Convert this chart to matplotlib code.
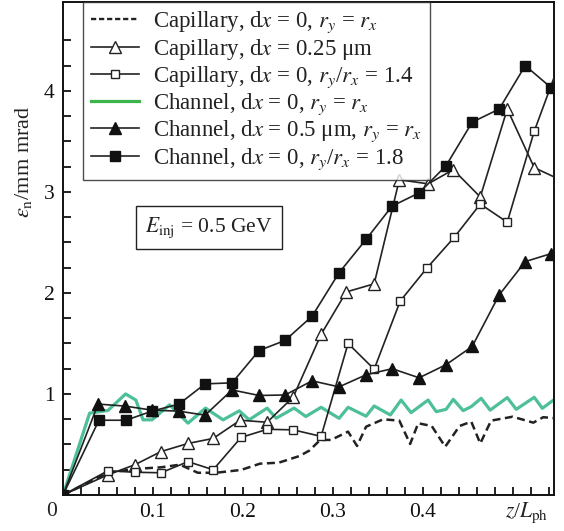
import matplotlib
matplotlib.use("Agg")
import matplotlib.pyplot as plt
from matplotlib.lines import Line2D

plt.rcParams["font.family"] = ["Liberation Serif", "DejaVu Serif"]
plt.rcParams["mathtext.fontset"] = "stix"

# Capillary, dx = 0, ry = rx (dashed)
cap0_x = [0, 0.05, 0.08, 0.109, 0.13, 0.15, 0.17, 0.198, 0.219, 0.24, 0.263, 0.274, 0.286, 0.298,
          0.317, 0.327, 0.337, 0.356, 0.374, 0.386, 0.395, 0.41, 0.425, 0.441, 0.454, 0.464, 0.476,
          0.5, 0.523, 0.534, 0.547]
cap0_y = [0, 0.22, 0.258, 0.274, 0.30, 0.22, 0.22, 0.248, 0.31, 0.32, 0.386, 0.44, 0.545, 0.545,
          0.627, 0.485, 0.676, 0.749, 0.736, 0.505, 0.71, 0.683, 0.478, 0.683, 0.726, 0.51, 0.736,
          0.775, 0.716, 0.77, 0.76]

# Capillary, dx = 0.25 um (open triangles)
cap25_x = [0, 0.050, 0.080, 0.109, 0.139, 0.167, 0.197, 0.227, 0.256, 0.287, 0.315, 0.346, 0.374,
           0.406, 0.434, 0.464, 0.494, 0.524, 0.553]
cap25_y = [0, 0.20, 0.30, 0.43, 0.51, 0.56, 0.74, 0.72, 0.97, 1.59, 2.01, 2.09, 3.12, 3.08, 3.22,
           2.95, 3.82, 3.24, 3.12]

# Capillary, dx = 0, ry/rx = 1.4 (open squares)
cap14_x = [0, 0.050, 0.080, 0.109, 0.139, 0.167, 0.198, 0.227, 0.256, 0.287, 0.317, 0.346, 0.375,
           0.405, 0.435, 0.464, 0.494, 0.524, 0.553]
cap14_y = [0, 0.24, 0.225, 0.22, 0.33, 0.25, 0.57, 0.65, 0.645, 0.58, 1.50, 1.245, 1.92, 2.25,
           2.55, 2.88, 2.70, 3.60, 4.3]

# Channel, dx = 0, ry = rx (green)
ch0_x = [0, 0.0296, 0.05, 0.0696, 0.081, 0.089, 0.099, 0.1185, 0.139, 0.1585, 0.178, 0.196, 0.207,
         0.227, 0.237, 0.257, 0.27, 0.287, 0.307, 0.317, 0.337, 0.346, 0.364, 0.376, 0.387, 0.406,
         0.415, 0.426, 0.434, 0.445, 0.454, 0.465, 0.475, 0.494, 0.504, 0.524, 0.533, 0.547]
ch0_y = [0, 0.81, 0.837, 1.0, 0.94, 0.744, 0.744, 0.893, 0.711, 0.86, 0.744, 0.833, 0.744, 0.86,
         0.76, 0.86, 0.777, 0.868, 0.759, 0.868, 0.78, 0.881, 0.792, 0.94, 0.815, 0.94, 0.825,
         0.848, 0.947, 0.835, 0.875, 0.957, 0.84, 0.964, 0.848, 0.967, 0.858, 0.95]

# Channel, dx = 0.5 um, ry = rx (filled triangles)
ch05_x = [0, 0.039, 0.069, 0.099, 0.129, 0.158, 0.188, 0.218, 0.247, 0.277, 0.307, 0.337, 0.366,
          0.396, 0.426, 0.455, 0.485, 0.514, 0.543]
ch05_y = [0, 0.90, 0.88, 0.84, 0.83, 0.79, 1.04, 0.985, 0.99, 1.13, 1.07, 1.19, 1.25, 1.16, 1.29,
          1.47, 1.98, 2.31, 2.39]

# Channel, dx = 0, ry/rx = 1.8 (filled squares)
ch18_x = [0, 0.040, 0.070, 0.099, 0.129, 0.158, 0.188, 0.218, 0.247, 0.277, 0.307, 0.337, 0.366,
          0.396, 0.426, 0.455, 0.485, 0.514, 0.543]
ch18_y = [0, 0.74, 0.74, 0.83, 0.90, 1.10, 1.11, 1.43, 1.53, 1.77, 2.20, 2.53, 2.86, 2.99, 3.26,
          3.69, 3.82, 4.25, 4.03]

labels = [
    r"Capillary, d$x$ = 0, $r_y$ = $r_x$",
    r"Capillary, d$x$ = 0.25 μm",
    r"Capillary, d$x$ = 0, $r_y$/$r_x$ = 1.4",
    r"Channel, d$x$ = 0, $r_y$ = $r_x$",
    r"Channel, d$x$ = 0.5 μm, $r_y$ = $r_x$",
    r"Channel, d$x$ = 0, $r_y$/$r_x$ = 1.8",
]
xtick_pos = [i * 0.02 for i in range(1, 28)]
xtick_lab = {5: "0.1", 10: "0.2", 15: "0.3", 20: "0.4"}
ytick_pos = [i * 0.25 for i in range(1, 19)]

ink = "#222222"
green = "#4dbf99"
fig = plt.figure(figsize=(5.64, 5.31), dpi=100)
ax = fig.add_axes([0.1117, 0.0678, 0.8706, 0.9285])

ax.plot(ch0_x, ch0_y, color=green, lw=2.3, zorder=2)
ax.plot(cap0_x, cap0_y, color=ink, lw=1.8, ls=(0, (3.2, 1.8)), zorder=3)
ax.plot(cap25_x, cap25_y, color=ink, lw=1.2, marker="^", ms=8.5, mfc="white", mec=ink, mew=1.0, zorder=4)
ax.plot(cap14_x, cap14_y, color=ink, lw=1.2, marker="s", ms=6.2, mfc="white", mec=ink, mew=1.0, zorder=4)
ax.plot(ch05_x, ch05_y, color=ink, lw=1.2, marker="^", ms=8.5, mfc="#111111", mec="#111111", zorder=5)
ax.plot(ch18_x, ch18_y, color=ink, lw=1.2, marker="s", ms=7, mfc="#111111", mec="#111111", zorder=5)

ax.set_xlim(0, 0.546)
ax.set_ylim(0, 4.88)
ax.set_xticks(xtick_pos)
ax.set_xticklabels([xtick_lab.get(i, "") for i in range(1, 28)])
ax.set_yticks(ytick_pos)
ax.set_yticklabels([str(i // 4) if i % 4 == 0 else "" for i in range(1, 19)])
ax.tick_params(direction="in", length=6, width=1.3, labelsize=15.5, pad=6, colors="#111111")
for s in ax.spines.values():
    s.set_linewidth(1.4)
    s.set_color("#111111")

ax.text(-0.013, -0.014, "0", transform=ax.get_xaxis_transform(), ha="center", va="top",
        fontsize=15.5, color=ink)
ax.text(0.515, -0.012, r"$z$/$L_\mathrm{ph}$", transform=ax.get_xaxis_transform(), ha="center",
        va="top", fontsize=15.5, color=ink)
fig.text(0.042, 0.695, r"$\epsilon_\mathrm{n}$/mm mrad", rotation=90, ha="center", va="center",
         fontsize=16, color=ink)

ax.text(0.297, 0.542, r"$E_\mathrm{inj}$ = 0.5 GeV", transform=ax.transAxes, ha="center",
        va="center", fontsize=15.5, color=ink,
        bbox=dict(boxstyle="square,pad=0.42", fc="white", ec=ink, lw=1.0))

handles = [
    Line2D([], [], color=ink, lw=1.7, ls=(0, (2.2, 1.2))),
    Line2D([], [], color=ink, lw=1.2, marker="^", ms=8.5, mfc="white", mec=ink),
    Line2D([], [], color=ink, lw=1.2, marker="s", ms=6.2, mfc="white", mec=ink),
    Line2D([], [], color="#3cb54a", lw=2.3),
    Line2D([], [], color=ink, lw=1.2, marker="^", ms=8.5, mfc="#111111", mec="#111111"),
    Line2D([], [], color=ink, lw=1.2, marker="s", ms=7, mfc="#111111", mec="#111111"),
]
leg = ax.legend(handles, labels, loc="upper left", bbox_to_anchor=(0.041, 1.0), borderaxespad=0,
                fontsize=16.5, frameon=True, fancybox=False, handlelength=2.1, handletextpad=0.6,
                labelspacing=0.08, borderpad=0.35)
leg.get_frame().set_edgecolor(ink)
leg.get_frame().set_linewidth(1.0)
for t in leg.get_texts():
    t.set_color(ink)

fig.savefig("out.png", dpi=100)
